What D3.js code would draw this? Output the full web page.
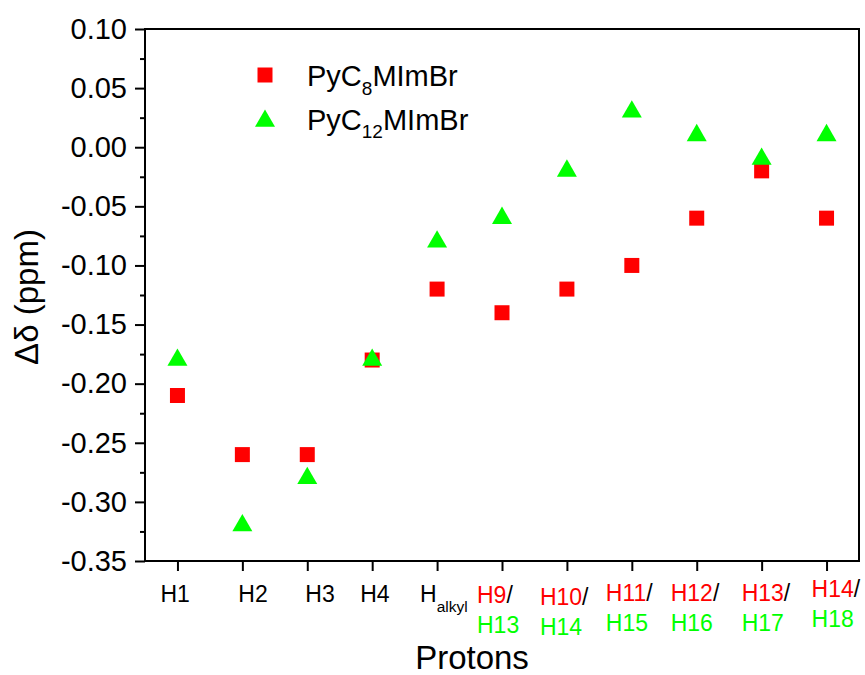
<!DOCTYPE html>
<html lang="en">
<head>
<meta charset="utf-8">
<title>Chemical shift change</title>
<script src="https://d3js.org/d3.v7.min.js"></script>
<style>
body { margin: 0; background: #fff; }
svg text { font-family: "Liberation Sans", Arial, sans-serif; }
.axis path, .axis line { stroke: #000; stroke-width: 2; }
</style>
</head>
<body>
<div id="chart"></div>
<script>
// protons on the x axis (top line / bottom line of each label)
var protonsTop = ["H1", "H2", "H3", "H4", "H", "H9", "H10", "H11", "H12", "H13", "H14"];
var protonsBottom = ["", "", "", "", "", "H13", "H14", "H15", "H16", "H17", "H18"];

// delta delta (ppm) for each proton
var pyC8 = [-0.21, -0.26, -0.26, -0.18, -0.12, -0.14, -0.12, -0.10, -0.06, -0.02, -0.06];
var pyC12 = [-0.18, -0.32, -0.28, -0.18, -0.08, -0.06, -0.02, 0.03, 0.01, -0.01, 0.01];

var yTicks = [0.10, 0.05, 0.00, -0.05, -0.10, -0.15, -0.20, -0.25, -0.30, -0.35];

// hand placed label offsets, like in the original figure
var labelDx = [-17, -4, -2, -12, -17, -25, -27, -26, -26, -20, -15];
var labelDy = [0, 0, 0, 0, 0, 1, 3, -1, -1, -1, -5];

var w = 865, h = 675;
var mLeft = 145, mRight = 859, mTop = 29, mBottom = 561;

var svg = d3.select("#chart").append("svg")
    .attr("width", w)
    .attr("height", h);

var x = d3.scaleLinear().domain([0.5, protonsTop.length + 0.5]).range([mLeft, mRight]);
var y = d3.scaleLinear().domain([-0.35, 0.10]).range([mBottom, mTop]);

// frame
svg.append("rect")
    .attr("x", mLeft).attr("y", mTop)
    .attr("width", mRight - mLeft).attr("height", mBottom - mTop)
    .attr("fill", "none").attr("stroke", "#000").attr("stroke-width", 2);

// minor y ticks
var minor = d3.range(0, 9).map(i => -0.325 + i * 0.05);
svg.append("g").attr("class", "axis")
    .attr("transform", `translate(${mLeft},0)`)
    .call(d3.axisLeft(y).tickValues(minor).tickSize(5).tickFormat(""))
    .call(g => g.select(".domain").remove());

// major y ticks
var yAxis = svg.append("g").attr("class", "axis")
    .attr("transform", `translate(${mLeft},0)`)
    .call(d3.axisLeft(y).tickValues(yTicks).tickSize(10).tickPadding(8)
        .tickFormat(d => d.toFixed(2)));
yAxis.select(".domain").remove();
yAxis.selectAll("text").attr("font-size", 29).attr("font-family", "Liberation Sans, Arial").attr("fill", "#000");

// x ticks
var xAxis = svg.append("g").attr("class", "axis")
    .attr("transform", `translate(0,${mBottom})`)
    .call(d3.axisBottom(x).tickValues(d3.range(1, protonsTop.length + 1)).tickSize(10).tickFormat(""));
xAxis.select(".domain").remove();

// x tick labels
var labels = svg.append("g").attr("font-size", 23);
protonsTop.forEach(function(t, i) {
    var lx = x(i + 1) + labelDx[i];
    var ly = 602 + labelDy[i];
    var txt = labels.append("text").attr("x", lx).attr("y", ly);
    if (protonsBottom[i]) {
        txt.append("tspan").attr("fill", "#ff0000").text(t);
        txt.append("tspan").attr("fill", "#000").text("/");
        labels.append("text").attr("x", lx).attr("y", ly + 30)
            .attr("fill", "#00ff00").text(protonsBottom[i]);
    } else if (t === "H") {
        txt.attr("fill", "#000").append("tspan").text("H");
        txt.append("tspan").attr("font-size", 15.5).attr("dy", 9.5).text("alkyl");
    } else {
        txt.attr("fill", "#000").text(t);
    }
});

// points
svg.append("g").selectAll("path")
    .data(pyC8).enter().append("path")
    .attr("transform", (d, i) => `translate(${x(i + 1)},${y(d)})`)
    .attr("d", d3.symbol().type(d3.symbolSquare).size(225))
    .attr("fill", "#ff0000");

svg.append("g").selectAll("path")
    .data(pyC12).enter().append("path")
    .attr("transform", (d, i) => `translate(${x(i + 1)},${y(d)})`)
    .attr("d", d3.symbol().type(d3.symbolTriangle).size(173))
    .attr("fill", "#00ff00");

// legend
var legend = svg.append("g").attr("font-size", 29);
legend.append("path")
    .attr("transform", "translate(265,75)")
    .attr("d", d3.symbol().type(d3.symbolSquare).size(225))
    .attr("fill", "#ff0000");
legend.append("path")
    .attr("transform", "translate(265,121)")
    .attr("d", d3.symbol().type(d3.symbolTriangle).size(173))
    .attr("fill", "#00ff00");

var l1 = legend.append("text").attr("x", 307).attr("y", 86);
l1.append("tspan").text("PyC");
l1.append("tspan").attr("font-size", 19).attr("dy", 9).text("8");
l1.append("tspan").attr("dy", -9).text("MImBr");

var l2 = legend.append("text").attr("x", 307).attr("y", 130);
l2.append("tspan").text("PyC");
l2.append("tspan").attr("font-size", 19).attr("dy", 8).text("12");
l2.append("tspan").attr("dy", -8).text("MImBr");

// axis titles
svg.append("text")
    .attr("x", 472).attr("y", 669)
    .attr("text-anchor", "middle").attr("font-size", 33)
    .text("Protons");

svg.append("text")
    .attr("transform", "translate(38,297) rotate(-90)")
    .attr("text-anchor", "middle").attr("font-size", 33)
    .text("Δδ (ppm)");
</script>
</body>
</html>
